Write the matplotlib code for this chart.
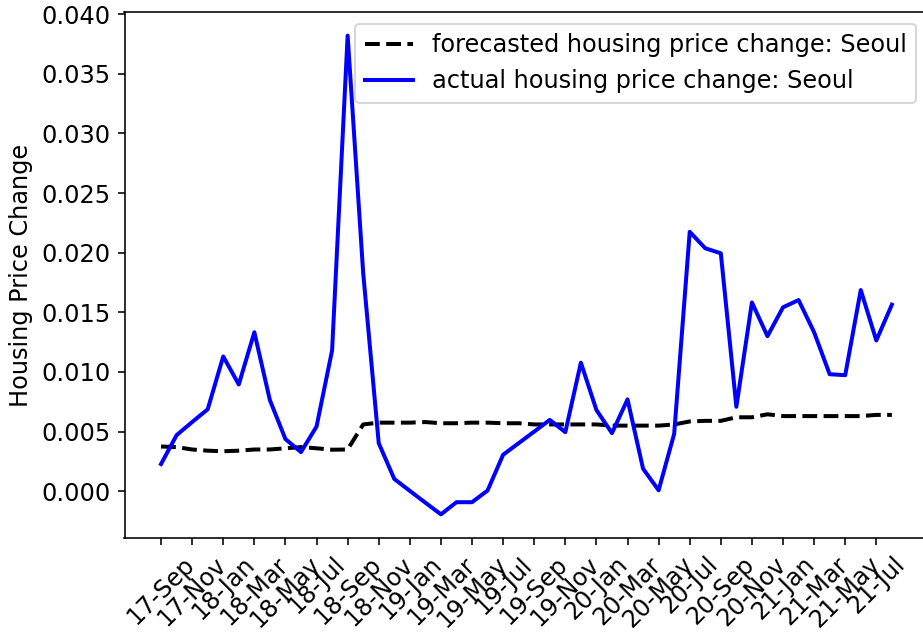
import matplotlib
matplotlib.use('Agg')
import matplotlib.pyplot as plt
import numpy as np
import pandas as pd

#monthly labels, 17-Sep through 21-Aug
months = list(pd.date_range('2017-09-01', periods=48, freq='MS').strftime('%y-%b'))

#forecasted monthly housing price change
forecast = [0.00375, 0.0037, 0.0035, 0.0034, 0.00335, 0.0034, 0.0035, 0.0035,
            0.0036, 0.0037, 0.0036, 0.00348, 0.0035, 0.0056, 0.00575, 0.00575,
            0.00575, 0.0058, 0.0057, 0.0057, 0.00575, 0.00575, 0.0057, 0.0057,
            0.0056, 0.0056, 0.0056, 0.0056, 0.0056, 0.0055, 0.0055, 0.0055,
            0.0055, 0.0056, 0.00585, 0.0059, 0.0059, 0.0062, 0.0062, 0.00645,
            0.0063, 0.0063, 0.0063, 0.0063, 0.0063, 0.0063, 0.0064, 0.0064]

#actual monthly housing price change
actual = [0.00228, 0.0047, 0.0058, 0.00687, 0.0113, 0.00895, 0.01333, 0.00764,
          0.00437, 0.00328, 0.00542, 0.0118, 0.0382, 0.0183, 0.00403, 0.00103,
          0.00003, -0.00096, -0.00194, -0.00092, -0.00092, 0.00006, 0.00306, 0.00403,
          0.005, 0.00598, 0.00495, 0.01078, 0.00681, 0.00487, 0.0077, 0.00189,
          0.00008, 0.00481, 0.02175, 0.02037, 0.01995, 0.00708, 0.01583, 0.0130,
          0.01542, 0.01603, 0.01333, 0.00981, 0.00973, 0.01687, 0.01264, 0.01564]

x = np.arange(len(months))

plt.rcParams['font.size'] = 12

fig = plt.figure(figsize=(923/144, 634/144), dpi=144)
#right spine sits just past the image edge, like the reference crop
ax = fig.add_axes([124.5/923, 95.7/634, (928.4-124.5)/923, (622.3-95.7)/634])

ax.plot(x, forecast, 'k--', lw=2, label='forecasted housing price change: Seoul')
ax.plot(x, actual, 'b-', lw=2, label='actual housing price change: Seoul')

ax.set_xticks(x[::2])
ax.set_xticklabels(months[::2], rotation=45)
ax.set_ylabel('Housing Price Change')
ax.legend(loc='upper right')

fig.savefig('out.png', dpi=144)
